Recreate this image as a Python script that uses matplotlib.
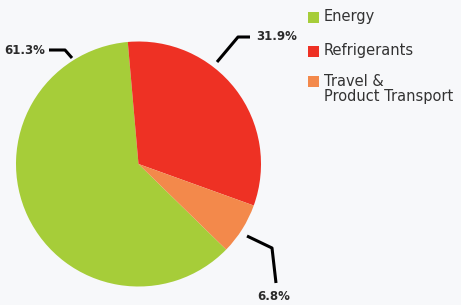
import matplotlib.pyplot as plt
from matplotlib.patches import Rectangle

categories = ["Energy", "Refrigerants", "Travel &\nProduct Transport"]
shares = [61.3, 31.9, 6.8]
labels = ["61.3%", "31.9%", "6.8%"]
colors = ["#a6cd39", "#ee3124", "#f3894b"]

W, H = 461, 305
bg = "#f7f8fa"
ink = "#2b2b2b"

fig = plt.figure(figsize=(W / 100, H / 100), dpi=100, facecolor=bg)
ax = fig.add_axes([0, 0, 1, 1])
ax.set_xlim(0, W)
ax.set_ylim(H, 0)
ax.axis("off")

# pie in its own axes, placed by pixel box
cx, cy, r = 138.5, 164, 122.5
pax = fig.add_axes([(cx - r) / W, (H - cy - r) / H, 2 * r / W, 2 * r / H])
pax.pie(shares, colors=colors, startangle=315.7, counterclock=False,
        wedgeprops=dict(linewidth=0))
pax.set_xlim(-1, 1)
pax.set_ylim(-1, 1)
pax.set_aspect("equal")
pax.axis("off")

# leader lines + percent labels (pixel coordinates)
leaders = [
    [(72, 58), (65, 50), (49, 50)],
    [(217, 62), (238, 37), (250, 37)],
    [(247, 236), (272, 248), (276, 283)],
]
label_pos = [(45, 50, "right"), (256, 37, "left"), (274, 297, "center")]
for pts, (tx, ty, ha), lab in zip(leaders, label_pos, labels):
    xs, ys = zip(*pts)
    ax.plot(xs, ys, color="black", lw=2.2, solid_capstyle="butt", zorder=5)
    ax.text(tx, ty, lab, ha=ha, va="center", fontsize=8.5, fontweight="bold",
            color=ink)

# legend
leg_y = [17, 51, 81]
for y, name, c in zip(leg_y, categories, colors):
    ax.add_patch(Rectangle((308, y - 5.5), 11, 11, color=c, lw=0))
    for i, line in enumerate(name.split("\n")):
        ax.text(324, y + i * 15, line, ha="left", va="center", fontsize=10.5,
                color="#333333")

fig.savefig("out.png", dpi=100, facecolor=bg)
